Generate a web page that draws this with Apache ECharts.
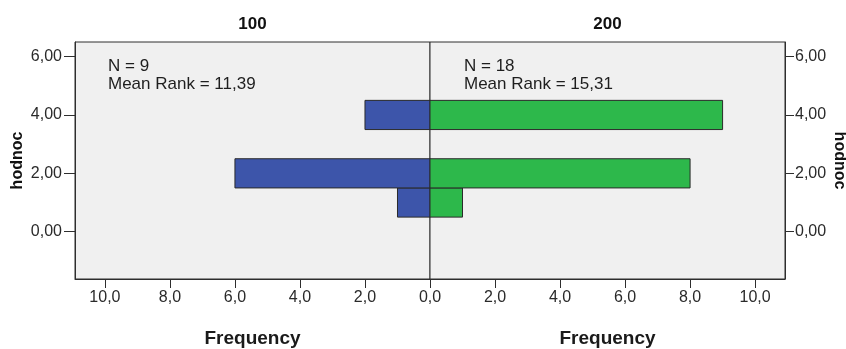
<!DOCTYPE html>
<html>
<head>
<meta charset="utf-8">
<script src="https://cdn.jsdelivr.net/npm/echarts@6/dist/echarts.min.js"></script>
<style>
  html, body { margin: 0; padding: 0; background: #ffffff; }
  #chart { width: 846px; height: 349px; }
</style>
</head>
<body>
<div id="chart"></div>
<script>
// hodnoc value of each histogram bin (bin width 1)
const hodnocValues = [1, 2, 4];
const binWidth = 1;
// Frequencies per group
const freq100 = [1, 6, 2];
const freq200 = [1, 8, 9];
// Group panels and their summary statistics
const groupNames = ['100', '200'];
const groupN = [9, 18];
const groupMeanRank = ['11,39', '15,31'];
// Tick positions
const freqTicks = [0, 2, 4, 6, 8, 10];
const hodnocTicks = [0, 2, 4, 6];

const FONT = '"Liberation Sans", Arial, sans-serif';
const BLUE = '#3d55aa';
const GREEN = '#2db84b';
const EDGE = '#2a2a2a';
const fmt1 = v => v.toFixed(1).replace('.', ',');
const fmt2 = v => v.toFixed(2).replace('.', ',');

const chart = echarts.init(document.getElementById('chart'), null, { renderer: 'canvas' });

function barRenderer(color) {
  return function (params, api) {
    const count = api.value(0);
    const y = api.value(1);
    const a = api.coord([0, y + binWidth / 2]);
    const b = api.coord([count, y - binWidth / 2]);
    return {
      type: 'rect',
      shape: {
        x: Math.min(a[0], b[0]),
        y: Math.min(a[1], b[1]),
        width: Math.abs(b[0] - a[0]),
        height: Math.abs(b[1] - a[1])
      },
      style: { fill: color, stroke: EDGE, lineWidth: 1 }
    };
  };
}

const gridBase = {
  top: 42, height: 237, width: 355, show: true,
  outerBoundsMode: 'none', containLabel: false,
  backgroundColor: '#f0f0f0', borderColor: '#2e2e2e', borderWidth: 1
};

function xAxisFor(idx, labels) {
  return {
    type: 'value', gridIndex: idx, min: 0, max: 10.92, inverse: idx === 0,
    position: 'bottom',
    splitLine: { show: false },
    axisLine: { show: true, onZero: false, lineStyle: { color: '#2e2e2e', width: 1 } },
    axisTick: { show: true, length: 9, customValues: freqTicks, lineStyle: { color: '#2e2e2e' } },
    axisLabel: {
      customValues: labels, formatter: v => fmt1(v), margin: 11,
      color: '#2a2a2a', fontFamily: FONT, fontSize: 16
    },
    name: 'Frequency', nameLocation: 'middle', nameGap: 50,
    nameTextStyle: { fontFamily: FONT, fontSize: 19, fontWeight: 'bold', color: '#1a1a1a' }
  };
}

function yAxisFor(idx) {
  return {
    type: 'value', gridIndex: idx, min: -1.62, max: 6.5,
    position: idx === 0 ? 'left' : 'right',
    splitLine: { show: false },
    axisLine: { show: true, onZero: false, lineStyle: { color: '#2e2e2e', width: 1 } },
    axisTick: { show: true, length: idx === 0 ? 11 : 9, customValues: hodnocTicks, lineStyle: { color: '#2e2e2e' } },
    axisLabel: {
      customValues: hodnocTicks, formatter: v => fmt2(v), margin: idx === 0 ? 13 : 10,
      color: '#2a2a2a', fontFamily: FONT, fontSize: 16
    },
    name: 'hodnoc', nameLocation: 'middle', nameGap: idx === 0 ? 49 : 46,
    nameRotate: idx === 0 ? 90 : -90,
    nameTextStyle: { fontFamily: FONT, fontSize: 16, fontWeight: 'bold', color: '#111111' }
  };
}

const panelCenters = [252.5, 607.5];
const graphics = [];
groupNames.forEach((g, i) => {
  graphics.push({
    type: 'text', x: panelCenters[i], y: 24,
    style: { text: g, font: 'bold 17px ' + FONT, fill: '#111111', textAlign: 'center', textVerticalAlign: 'middle' }
  });
  graphics.push({
    type: 'text', x: i === 0 ? 108 : 464, y: 57,
    style: {
      text: 'N = ' + groupN[i] + '\nMean Rank = ' + groupMeanRank[i],
      font: '17px ' + FONT, lineHeight: 18, fill: '#1e1e1e', textAlign: 'left', textVerticalAlign: 'top'
    }
  });
});

chart.setOption({
  animation: false,
  grid: [
    Object.assign({ left: 75 }, gridBase),
    Object.assign({ left: 430 }, gridBase)
  ],
  xAxis: [xAxisFor(0, freqTicks.filter(v => v !== 0)), xAxisFor(1, freqTicks)],
  yAxis: [yAxisFor(0), yAxisFor(1)],
  series: [
    {
      type: 'custom', xAxisIndex: 0, yAxisIndex: 0,
      data: hodnocValues.map((h, i) => [freq100[i], h]),
      encode: { x: 0, y: 1 },
      renderItem: barRenderer(BLUE)
    },
    {
      type: 'custom', xAxisIndex: 1, yAxisIndex: 1,
      data: hodnocValues.map((h, i) => [freq200[i], h]),
      encode: { x: 0, y: 1 },
      renderItem: barRenderer(GREEN)
    }
  ],
  graphic: graphics
});
</script>
</body>
</html>
